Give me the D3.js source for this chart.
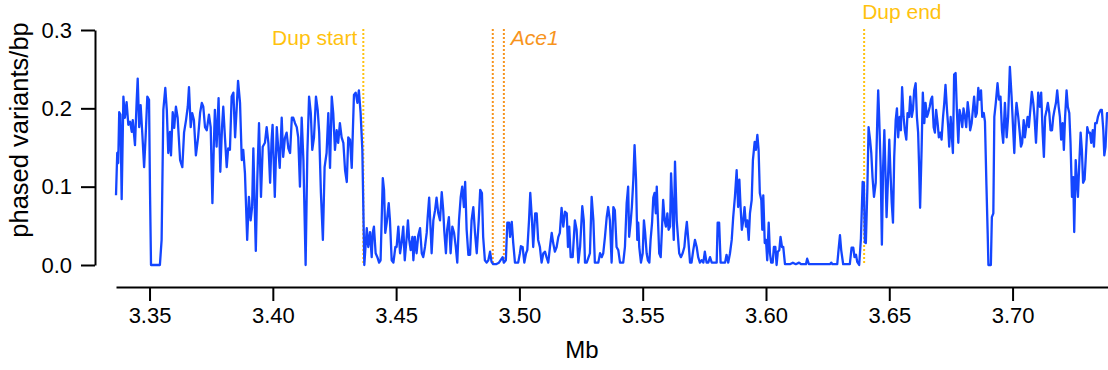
<!DOCTYPE html>
<html><head><meta charset="utf-8">
<script src="https://cdn.jsdelivr.net/npm/d3@7"></script>
<style>html,body{margin:0;padding:0;background:#fff;}svg{display:block;font-family:"Liberation Sans",Arial,Helvetica,sans-serif;}</style>
</head><body><svg id="chart" width="1108" height="370"></svg>
<script>
// Phased variants per bp along 2R (Mb)
const phasedTrace = [
[3.3364,0.089],[3.3369,0.143],[3.3373,0.130],[3.3377,0.195],[3.3382,0.192],[3.3387,0.084],[3.3394,0.215],[3.3400,0.188],[3.3407,0.208],[3.3414,0.179],
[3.3421,0.183],[3.3428,0.170],[3.3432,0.185],[3.3441,0.153],[3.3448,0.211],[3.3452,0.238],[3.3458,0.176],[3.3464,0.204],[3.3471,0.166],[3.3478,0.125],
[3.3484,0.163],[3.3491,0.215],[3.3498,0.211],[3.3502,0.092],[3.3506,0],[3.3542,0],[3.3549,0.032],[3.3556,0.198],[3.3564,0.226],[3.3570,0.198],
[3.3576,0.143],[3.3583,0.170],[3.3587,0.140],[3.3594,0.195],[3.3600,0.175],[3.3607,0.202],[3.3614,0.188],[3.3624,0.134],[3.3633,0.125],[3.3640,0.169],
[3.3648,0.185],[3.3655,0.202],[3.3660,0.227],[3.3667,0.176],[3.3673,0.194],[3.3680,0.185],[3.3688,0.140],[3.3697,0.163],[3.3705,0.194],[3.3712,0.207],
[3.3718,0.202],[3.3725,0.176],[3.3732,0.172],[3.3741,0.192],[3.3748,0.176],[3.3755,0.079],[3.3761,0.156],[3.3765,0.198],[3.3772,0.151],[3.3780,0.213],
[3.3787,0.119],[3.3794,0.176],[3.3799,0.202],[3.3806,0.162],[3.3813,0.125],[3.3819,0.149],[3.3826,0.147],[3.3833,0.215],[3.3840,0.220],[3.3847,0.163],
[3.3853,0.198],[3.3859,0.235],[3.3867,0.207],[3.3874,0.134],[3.3880,0.147],[3.3887,0.117],[3.3896,0.032],[3.3903,0.087],[3.3910,0.057],[3.3916,0.074],
[3.3921,0.149],[3.3931,0.018],[3.3937,0.109],[3.3944,0.181],[3.3952,0.087],[3.3959,0.151],[3.3968,0.156],[3.3975,0.176],[3.3982,0.156],[3.3989,0.105],
[3.3995,0.160],[3.3999,0.179],[3.4008,0.087],[3.4016,0.176],[3.4022,0.149],[3.4028,0.124],[3.4036,0.188],[3.4042,0.138],[3.4049,0.162],[3.4056,0.169],
[3.4063,0.149],[3.4070,0.143],[3.4077,0.188],[3.4083,0.188],[3.4090,0.181],[3.4097,0.176],[3.4103,0.163],[3.4110,0.100],[3.4117,0.188],[3.4124,0.134],
[3.4133,0],[3.4140,0.143],[3.4147,0.215],[3.4154,0.194],[3.4160,0.147],[3.4167,0.163],[3.4175,0.215],[3.4182,0.198],[3.4188,0.169],[3.4195,0.092],
[3.4203,0.032],[3.4210,0.125],[3.4218,0.143],[3.4225,0.194],[3.4232,0.124],[3.4239,0.215],[3.4245,0.194],[3.4252,0.147],[3.4259,0.172],[3.4265,0.156],
[3.4272,0.181],[3.4279,0.163],[3.4286,0.156],[3.4293,0.121],[3.4300,0.106],[3.4306,0.163],[3.4313,0.160],[3.4320,0.124],[3.4329,0.217],[3.4336,0.220],
[3.4343,0.207],[3.4349,0.223],[3.4356,0.194],[3.4363,0.147],[3.4371,0],[3.4381,0.047],[3.4387,0.023],[3.4394,0.042],[3.4401,0.010],[3.4405,0.041],
[3.4410,0.049],[3.4417,0.015],[3.4424,0.010],[3.4431,0.003],[3.4437,0.006],[3.4446,0.111],[3.4451,0.096],[3.4456,0.041],[3.4462,0.054],[3.4470,0.079],
[3.4475,0.057],[3.4482,0.006],[3.4489,0.003],[3.4497,0.023],[3.4502,0.023],[3.4509,0.049],[3.4516,0.015],[3.4522,0.028],[3.4529,0.049],[3.4535,0.006],
[3.4543,0.036],[3.4548,0.057],[3.4553,0.032],[3.4559,0.019],[3.4566,0.036],[3.4570,0.006],[3.4576,0.036],[3.4583,0.015],[3.4590,0.038],[3.4597,0.047],
[3.4604,0.015],[3.4610,0.010],[3.4617,0.023],[3.4624,0.041],[3.4628,0.061],[3.4634,0.086],[3.4640,0.045],[3.4644,0.015],[3.4651,0.057],[3.4658,0.070],
[3.4664,0.086],[3.4671,0.066],[3.4678,0.057],[3.4685,0.093],[3.4691,0.070],[3.4695,0.045],[3.4702,0.015],[3.4707,0.045],[3.4714,0.061],[3.4721,0.015],
[3.4728,0.049],[3.4735,0.041],[3.4742,0.023],[3.4748,0.003],[3.4755,0.057],[3.4762,0.087],[3.4768,0.100],[3.4775,0.074],[3.4780,0.106],[3.4786,0.045],
[3.4793,0.013],[3.4800,0.013],[3.4806,0.057],[3.4813,0.074],[3.4820,0.041],[3.4827,0.015],[3.4835,0.057],[3.4841,0.096],[3.4848,0.092],[3.4853,0.036],
[3.4860,0.006],[3.4867,0.003],[3.4874,0.006],[3.4881,0.017],[3.4887,0.004],[3.4894,0.001],[3.4905,0.001],[3.4917,0.003],[3.4932,0.010],[3.4937,0.003],
[3.4945,0.006],[3.4951,0.054],[3.4958,0.054],[3.4962,0.036],[3.4969,0.055],[3.4975,0.028],[3.4982,0.003],[3.4995,0.003],[3.5002,0.015],[3.5006,0.024],
[3.5013,0.023],[3.5020,0.003],[3.5027,0.015],[3.5032,0.019],[3.5039,0.057],[3.5044,0.092],[3.5051,0.057],[3.5056,0.023],[3.5064,0.066],[3.5070,0.066],
[3.5076,0.032],[3.5083,0.023],[3.5090,0.003],[3.5097,0.015],[3.5104,0.017],[3.5110,0.010],[3.5117,0.003],[3.5124,0.023],[3.5131,0.041],[3.5137,0.028],
[3.5144,0.017],[3.5151,0.023],[3.5158,0.036],[3.5164,0.041],[3.5171,0.073],[3.5178,0.049],[3.5185,0.068],[3.5192,0.066],[3.5197,0.023],[3.5202,0.049],
[3.5208,0.010],[3.5216,0.010],[3.5225,0.057],[3.5232,0.045],[3.5239,0.003],[3.5246,0.023],[3.5255,0.075],[3.5261,0.057],[3.5266,0.003],[3.5273,0.003],
[3.5286,0.015],[3.5293,0.087],[3.5300,0.057],[3.5306,0.003],[3.5320,0.003],[3.5327,0.015],[3.5334,0.010],[3.5340,0.015],[3.5347,0.036],[3.5354,0.061],
[3.5360,0.074],[3.5367,0.057],[3.5374,0.003],[3.5381,0.074],[3.5387,0.070],[3.5394,0.023],[3.5401,0.019],[3.5408,0.003],[3.5421,0.003],[3.5428,0.023],
[3.5435,0.079],[3.5441,0.100],[3.5445,0.036],[3.5451,0.054],[3.5456,0.074],[3.5462,0.109],[3.5467,0.153],[3.5473,0.109],[3.5478,0.032],[3.5482,0.054],
[3.5486,0.023],[3.5493,0.003],[3.5500,0.015],[3.5505,0.057],[3.5510,0.041],[3.5516,0.015],[3.5521,0.006],[3.5527,0.003],[3.5532,0.032],[3.5538,0.054],
[3.5543,0.086],[3.5548,0.092],[3.5553,0.066],[3.5557,0.100],[3.5562,0.057],[3.5567,0.015],[3.5573,0.010],[3.5578,0.045],[3.5583,0.083],[3.5589,0.057],
[3.5594,0.049],[3.5600,0.066],[3.5605,0.045],[3.5611,0.049],[3.5615,0.117],[3.5620,0.079],[3.5626,0.032],[3.5631,0.132],[3.5638,0.057],[3.5643,0.036],
[3.5648,0.015],[3.5655,0.010],[3.5662,0.015],[3.5669,0.023],[3.5674,0.041],[3.5679,0.055],[3.5685,0.032],[3.5692,0.003],[3.5698,0.003],[3.5705,0.019],
[3.5712,0.032],[3.5719,0.023],[3.5725,0.010],[3.5732,0.003],[3.5739,0.006],[3.5746,0.003],[3.5752,0.017],[3.5759,0.003],[3.5766,0.003],[3.5773,0.010],
[3.5780,0.003],[3.5800,0.003],[3.5804,0.054],[3.5810,0.054],[3.5816,0.003],[3.5834,0.003],[3.5840,0.013],[3.5847,0.003],[3.5854,0.015],[3.5861,0.032],
[3.5867,0.061],[3.5874,0.087],[3.5881,0.121],[3.5887,0.074],[3.5892,0.109],[3.5897,0.074],[3.5902,0.045],[3.5908,0.057],[3.5913,0.074],[3.5919,0.049],
[3.5924,0.057],[3.5930,0.032],[3.5935,0.066],[3.5942,0.083],[3.5947,0.134],[3.5954,0.157],[3.5959,0.147],[3.5965,0.166],[3.5970,0.147],[3.5975,0.092],
[3.5981,0.083],[3.5985,0.045],[3.5989,0.089],[3.5995,0.028],[3.6000,0.032],[3.6005,0.006],[3.6011,0.054],[3.6016,0.015],[3.6021,0.003],[3.6027,0.003],
[3.6032,0.023],[3.6038,0.023],[3.6043,0],[3.6048,0.017],[3.6054,0.019],[3.6059,0.036],[3.6065,0.023],[3.6070,0.023],[3.6077,0.001],[3.6097,0.001],
[3.6109,0.003],[3.6121,0.001],[3.6134,0.003],[3.6142,0.001],[3.6162,0.001],[3.6167,0.008],[3.6174,0.001],[3.6259,0.001],[3.6265,0.003],[3.6269,0.001],
[3.6289,0.001],[3.6295,0.022],[3.6300,0.038],[3.6305,0.019],[3.6313,0.001],[3.6340,0.001],[3.6347,0.022],[3.6354,0.022],[3.6359,0.010],[3.6365,0.013],
[3.6370,0.004],[3.6378,0],[3.6385,0.034],[3.6392,0.106],[3.6397,0.105],[3.6401,0.029],[3.6405,0.028],[3.6411,0.096],[3.6416,0.176],[3.6422,0.160],
[3.6427,0.143],[3.6432,0.112],[3.6438,0.087],[3.6445,0.105],[3.6451,0.181],[3.6455,0.223],[3.6459,0.189],[3.6465,0.125],[3.6470,0.026],[3.6475,0.125],
[3.6480,0.172],[3.6485,0.112],[3.6489,0.061],[3.6495,0.112],[3.6500,0.160],[3.6504,0.125],[3.6510,0.079],[3.6515,0.054],[3.6520,0.138],[3.6526,0.185],
[3.6531,0.200],[3.6536,0.163],[3.6542,0.189],[3.6547,0.172],[3.6552,0.227],[3.6558,0.189],[3.6563,0.172],[3.6569,0.160],[3.6574,0.194],[3.6580,0.189],
[3.6585,0.215],[3.6591,0.189],[3.6596,0.198],[3.6601,0.223],[3.6607,0.232],[3.6612,0.189],[3.6617,0.169],[3.6621,0.125],[3.6625,0.073],[3.6631,0.147],
[3.6636,0.220],[3.6642,0.181],[3.6647,0.207],[3.6653,0.189],[3.6658,0.194],[3.6664,0.202],[3.6669,0.211],[3.6674,0.215],[3.6680,0.176],[3.6685,0.169],
[3.6690,0.198],[3.6696,0.181],[3.6701,0.163],[3.6707,0.169],[3.6712,0.160],[3.6718,0.189],[3.6723,0.207],[3.6728,0.230],[3.6734,0.198],[3.6739,0.176],
[3.6743,0.151],[3.6749,0.189],[3.6754,0.163],[3.6758,0.143],[3.6763,0.243],[3.6769,0.245],[3.6774,0.198],[3.6780,0.156],[3.6785,0.198],[3.6791,0.189],
[3.6796,0.176],[3.6801,0.200],[3.6807,0.189],[3.6812,0.176],[3.6818,0.208],[3.6823,0.194],[3.6828,0.172],[3.6834,0.181],[3.6839,0.198],[3.6844,0.215],
[3.6850,0.189],[3.6855,0.194],[3.6861,0.226],[3.6866,0.211],[3.6872,0.223],[3.6877,0.189],[3.6883,0.194],[3.6888,0.183],[3.6894,0.102],[3.6899,0.041],
[3.6902,0],[3.6912,0],[3.6916,0.061],[3.6922,0.066],[3.6926,0.189],[3.6932,0.207],[3.6939,0.232],[3.6945,0.211],[3.6951,0.215],[3.6957,0.172],
[3.6962,0.156],[3.6969,0.207],[3.6976,0.163],[3.6982,0.189],[3.6989,0.253],[3.6996,0.215],[3.7003,0.169],[3.7007,0.143],[3.7012,0.189],[3.7016,0.207],
[3.7023,0.189],[3.7029,0.169],[3.7034,0.151],[3.7039,0.156],[3.7045,0.185],[3.7050,0.163],[3.7055,0.176],[3.7061,0.189],[3.7066,0.176],[3.7073,0.202],
[3.7078,0.221],[3.7084,0.207],[3.7089,0.189],[3.7095,0.156],[3.7100,0.189],[3.7104,0.220],[3.7111,0.202],[3.7116,0.220],[3.7122,0.169],[3.7127,0.138],
[3.7132,0.189],[3.7138,0.198],[3.7143,0.207],[3.7149,0.194],[3.7154,0.172],[3.7160,0.172],[3.7165,0.189],[3.7170,0.198],[3.7176,0.207],[3.7181,0.223],
[3.7187,0.202],[3.7192,0.189],[3.7197,0.160],[3.7203,0.181],[3.7208,0.147],[3.7213,0.189],[3.7219,0.223],[3.7224,0.202],[3.7230,0.194],[3.7235,0.156],
[3.7241,0.087],[3.7246,0.112],[3.7250,0.042],[3.7256,0.134],[3.7261,0.105],[3.7265,0.087],[3.7270,0.125],[3.7276,0.169],[3.7281,0.147],[3.7286,0.105],
[3.7292,0.109],[3.7297,0.138],[3.7303,0.176],[3.7308,0.169],[3.7314,0.169],[3.7319,0.156],[3.7325,0.172],[3.7330,0.151],[3.7335,0.181],[3.7341,0.181],
[3.7346,0.189],[3.7351,0.194],[3.7357,0.198],[3.7362,0.198],[3.7368,0.172],[3.7372,0.140],[3.7377,0.151],[3.7383,0.194],[3.7387,0.194]
];

const xDomain = [3.3364, 3.7387];
const yDomain = [0, 0.3];
const xTickValues = [3.35, 3.40, 3.45, 3.50, 3.55, 3.60, 3.65, 3.70];
const yTickValues = [0.0, 0.1, 0.2, 0.3];

const markerLabels = ["Dup start", "Ace1", "Ace1", "Dup end"];
const markerPositions = [3.4367, 3.4892, 3.4937, 3.6398];
const markerKinds = ["dup", "gene", "gene", "dup"];

const colors = { line: "#1446ff", dup: "#ffc20e", gene: "#f7941d", axis: "#000" };

const svg = d3.select("#chart");
const x = d3.scaleLinear().domain(xDomain).range([116, 1108]);
const y = d3.scaleLinear().domain(yDomain).range([265, 30]);

// vertical marker lines
svg.append("g").selectAll("line").data(markerPositions).join("line")
  .attr("x1", d => x(d)).attr("x2", d => x(d))
  .attr("y1", y(0.3) - 1).attr("y2", y(0))
  .attr("stroke", (d, i) => colors[markerKinds[i]])
  .attr("stroke-width", 2)
  .attr("stroke-dasharray", "2,2");

// marker labels
svg.append("text").attr("x", x(markerPositions[0]) - 6).attr("y", 45)
  .attr("text-anchor", "end").attr("font-size", 21).attr("fill", colors.dup).text(markerLabels[0]);
svg.append("text").attr("x", x(markerPositions[2]) + 7).attr("y", 45)
  .attr("text-anchor", "start").attr("font-size", 21).attr("font-style", "italic").attr("fill", colors.gene).text(markerLabels[1]);
svg.append("text").attr("x", x(markerPositions[3]) - 2).attr("y", 19)
  .attr("text-anchor", "start").attr("font-size", 21).attr("fill", colors.dup).text(markerLabels[3]);

// data line
const line = d3.line().x(d => x(d[0])).y(d => y(d[1]));
svg.append("path").datum(phasedTrace)
  .attr("d", line).attr("fill", "none")
  .attr("stroke", colors.line).attr("stroke-width", 2.3).attr("stroke-linejoin", "round");

// axes
const xAxis = svg.append("g").attr("transform", "translate(0,287)")
  .call(d3.axisBottom(x).tickValues(xTickValues).tickFormat(d3.format(".2f")).tickSize(14).tickSizeOuter(0).tickPadding(6));
const yAxis = svg.append("g").attr("transform", "translate(95,0)")
  .call(d3.axisLeft(y).tickValues(yTickValues).tickFormat(d3.format(".1f")).tickSize(14).tickSizeOuter(0).tickPadding(9));
[xAxis, yAxis].forEach(g => {
  g.selectAll("path,line").attr("stroke", colors.axis).attr("stroke-width", 2);
  g.selectAll("text").attr("font-size", 22).attr("fill", "#000").attr("font-family", "Liberation Sans, Arial, sans-serif");
});

svg.append("text").attr("x", 582).attr("y", 358).attr("text-anchor", "middle")
  .attr("font-size", 24).text("Mb");
svg.append("text").attr("transform", "translate(28,130) rotate(-90)").attr("text-anchor", "middle")
  .attr("font-size", 25.5).text("phased variants/bp");
</script></body></html>
